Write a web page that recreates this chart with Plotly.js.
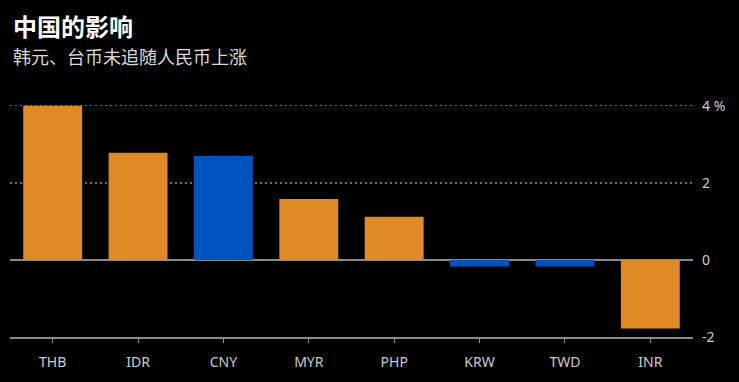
<!DOCTYPE html>
<html>
<head>
<meta charset="utf-8">
<script src="https://cdn.plot.ly/plotly-3.0.1.min.js"></script>
<style>html,body{margin:0;padding:0;background:#000;}#chart{width:739px;height:382px;}</style>
</head>
<body>
<div id="chart"></div>
<script>
const categories = ['THB','IDR','CNY','MYR','PHP','KRW','TWD','INR'];
const values = [4.0, 2.78, 2.7, 1.58, 1.12, -0.17, -0.17, -1.78];
const highlight = ['no','no','yes','no','no','yes','yes','no'];
const tickVals = [-2, 0, 2, 4];
const tickText = ['-2', '0', '2', '4 %'];

const ORANGE = '#E08A26';
const BLUE = '#0052BE';

const trace = {
  type: 'bar',
  x: categories,
  y: values,
  marker: {color: highlight.map(h => h === 'yes' ? BLUE : ORANGE)},
  hoverinfo: 'skip'
};

const layout = {
  width: 739, height: 382,
  paper_bgcolor: '#000', plot_bgcolor: '#000',
  margin: {l: 10, r: 46, t: 96, b: 45},
  bargap: 0.31,
  showlegend: false,
  font: {family: 'Noto Sans CJK SC, Noto Sans, sans-serif', color: '#cfcfcf'},
  xaxis: {
    showgrid: false,
    showline: true, linecolor: '#8a8a8a', linewidth: 1.5,
    ticks: 'outside', ticklen: 4, tickcolor: '#8a8a8a', tickwidth: 1,
    tickfont: {size: 14, color: '#cccccc', family: 'Noto Sans, sans-serif'},
    ticklabelstandoff: 8,
    zeroline: false, fixedrange: true
  },
  yaxis: {
    side: 'right',
    range: [-2, 4.25],
    tickvals: tickVals, ticktext: tickText,
    showgrid: true, gridcolor: '#6a6a6a', griddash: '2px,3px', gridwidth: 1.5,
    zeroline: true, zerolinecolor: '#8a8a8a', zerolinewidth: 1.5,
    showline: false, ticks: '',
    tickfont: {size: 14, color: '#cccccc', family: 'Noto Sans, sans-serif'},
    ticklabelstandoff: 8,
    fixedrange: true
  },
  annotations: [
    {text: '<b>中国的影响</b>', xref: 'paper', yref: 'paper', x: 0, xanchor: 'left',
     xshift: 1, y: 1, yanchor: 'middle', yshift: 71, showarrow: false,
     font: {size: 24, color: '#ffffff', family: 'Noto Sans CJK SC, sans-serif'}},
    {text: '韩元、台币未追随人民币上涨', xref: 'paper', yref: 'paper', x: 0, xanchor: 'left',
     xshift: 1, y: 1, yanchor: 'middle', yshift: 40, showarrow: false,
     font: {size: 18, color: '#d8d8d8', family: 'Noto Sans CJK SC, sans-serif'}}
  ]
};

Plotly.newPlot('chart', [trace], layout, {displayModeBar: false, staticPlot: true});
</script>
</body>
</html>
